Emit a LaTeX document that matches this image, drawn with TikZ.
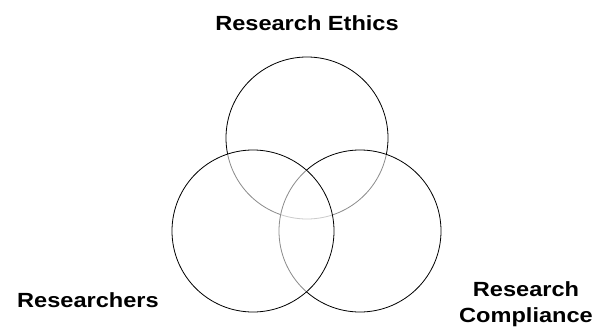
\documentclass[tikz,border=0pt]{standalone}
\usepackage{fontspec}
\setmainfont{Liberation Sans}
\newfontfamily\lblfont{Liberation Sans}[FakeStretch=1.15]
\begin{document}
\begin{tikzpicture}[x=1pt,y=-1pt,
  ring/.style={circle, draw=black, line width=0.8pt, fill=white, fill opacity=0.55,
               minimum size=162pt, inner sep=0pt},
  lbl/.style={font=\lblfont\fontsize{20.5}{25.5}\selectfont\bfseries, inner sep=0pt, align=center}]
\useasboundingbox (0,0) rectangle (597,329);
\fill[white] (0,0) rectangle (597,329);
% three overlapping sets, drawn back to front
\node[ring] (ethics) at (307,138) {};
\node[ring] (compliance) at (360,231) {};
\node[ring] (researchers) at (253,231) {};
% set labels
\node[lbl, anchor=base] (tEthics) at (307,31) {Research Ethics};
\node[lbl, anchor=base] (tResearchers) at (88,307) {Researchers};
\node[lbl, anchor=base] (tCompliance) at (526,322) {Research\\Compliance};
\end{tikzpicture}
\end{document}
